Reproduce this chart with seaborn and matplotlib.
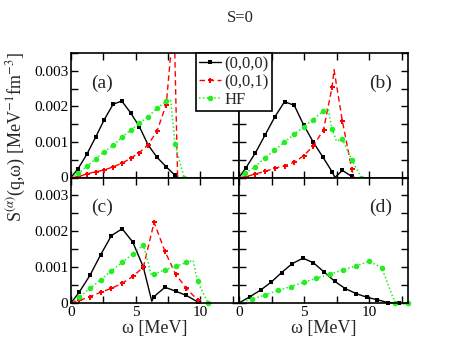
import numpy as np
import pandas as pd
import matplotlib
matplotlib.use("Agg")
import matplotlib.pyplot as plt
import seaborn as sns
from matplotlib.ticker import MultipleLocator, FuncFormatter

sns.set_theme(style="ticks")
plt.rcParams['font.family'] = ['Liberation Serif', 'DejaVu Serif']
plt.rcParams['mathtext.fontset'] = 'stix'

# ---------------- data ----------------
series_labels = ["(0,0,0)", "(0,0,1)", "HF"]
panel_names = ["(a)", "(b)", "(c)", "(d)"]

# panel (a)
a_black_x = [0, 0.55, 1.22, 1.9, 2.58, 3.26, 3.93, 4.61, 5.29, 5.96, 6.65, 7.37, 8.05, 8.3]
a_black_y = [0, 0.00025, 0.00065, 0.00113, 0.00163, 0.00206, 0.00215, 0.00182, 0.00143, 0.00092, 0.00057, 0.0003, 0.00006, 0]
a_red_x = [0, 0.55, 1.22, 1.9, 2.58, 3.26, 3.93, 4.61, 5.29, 5.96, 6.65, 7.37, 7.97, 8.25]
a_red_y = [0, 0.00002, 0.0001, 0.00016, 0.00021, 0.0003, 0.0004, 0.00054, 0.0007, 0.00092, 0.0013, 0.00205, 0.0045, 0]
a_green_x = [0, 0.55, 1.22, 1.9, 2.58, 3.26, 3.93, 4.61, 5.29, 5.96, 6.65, 7.37, 7.72, 8.05, 8.75]
a_green_y = [0, 0.00012, 0.00031, 0.00052, 0.00073, 0.0009, 0.00113, 0.00133, 0.00152, 0.00171, 0.00194, 0.00215, 0.00216, 0.00094, 0]

# panel (b)
b_black_x = [0, 0.51, 1.26, 2.0, 2.75, 3.5, 4.25, 4.97, 5.72, 6.46, 7.18, 7.38, 7.95, 8.67, 8.8]
b_black_y = [0, 0.00026, 0.00069, 0.00119, 0.0017, 0.00213, 0.00203, 0.00148, 0.00099, 0.00057, 0.00015, 0.0, 0.0002, 0.00003, 0]
b_red_x = [0, 0.51, 1.26, 2.0, 2.75, 3.5, 4.25, 4.97, 5.72, 6.5, 7.16, 7.31, 7.95, 8.67, 8.85]
b_red_y = [0, 0.00002, 0.0001, 0.00017, 0.00026, 0.00033, 0.00043, 0.00061, 0.00089, 0.00134, 0.00254, 0.00303, 0.00159, 0.00024, 0]
b_green_x = [0, 0.48, 1.22, 1.97, 2.72, 3.47, 4.23, 4.97, 5.69, 6.46, 6.85, 7.16, 7.5, 7.95, 8.67, 9.4]
b_green_y = [0, 0.00012, 0.0003, 0.00055, 0.00076, 0.00099, 0.00121, 0.00142, 0.00163, 0.00186, 0.00195, 0.00136, 0.00102, 0.00108, 0.0005, 0]

# panel (c)
c_black_x = [0, 0.65, 1.48, 2.3, 3.13, 3.96, 4.78, 5.6, 6.25, 6.43, 7.27, 8.1, 8.93, 9.8]
c_black_y = [0, 0.00031, 0.00078, 0.00135, 0.00188, 0.00207, 0.0017, 0.001, 0.00005, 0.00018, 0.00044, 0.00033, 0.00021, 0.00003]
c_red_x = [0, 0.65, 1.48, 2.3, 3.13, 3.96, 4.78, 5.6, 6.43, 7.27, 8.1, 8.93, 9.8, 9.95]
c_red_y = [0, 0.00007, 0.00018, 0.0003, 0.00041, 0.00055, 0.00074, 0.001, 0.00225, 0.00144, 0.0008, 0.00041, 0.00008, 0]
c_green_x = [0, 0.65, 1.48, 2.3, 3.13, 3.96, 4.78, 5.6, 6.2, 6.43, 7.27, 8.1, 8.93, 9.45, 9.8, 10.6]
c_green_y = [0, 0.00017, 0.00041, 0.00065, 0.0009, 0.00113, 0.00137, 0.00162, 0.0008, 0.0008, 0.00093, 0.00102, 0.00113, 0.00119, 0.0006, 0]

# panel (d)
d_black_x = [0, 0.86, 1.66, 2.47, 3.28, 4.1, 4.93, 5.73, 6.56, 7.38, 8.18, 9.03, 9.84, 10.65, 11.47, 12.27]
d_black_y = [0, 0.00018, 0.00036, 0.00058, 0.00085, 0.0011, 0.00125, 0.00112, 0.00086, 0.0006, 0.0004, 0.00026, 0.00016, 0.00009, 0.00001, 0]
d_green_x = [0, 1, 2, 3, 4, 5, 5.95, 6.97, 7.97, 8.98, 10, 10.97, 12, 12.97]
d_green_y = [0, 0.00011, 0.00022, 0.00035, 0.00046, 0.00058, 0.00069, 0.0008, 0.00092, 0.00103, 0.00116, 0.00099, 0.00001, 0]

# indices (of each series) that carry a marker
a_black_m = list(range(1, 13))
a_red_m = list(range(1, 12))
a_green_m = list(range(1, 12)) + [13, 14]
b_black_m = [1, 2, 3, 4, 5, 6, 7, 8, 9, 10, 12, 13]
b_red_m = [1, 2, 3, 4, 5, 6, 7, 8, 9, 10, 12, 13]
b_green_m = [1, 2, 3, 4, 5, 6, 7, 8, 9, 11, 13, 14, 15]
c_black_m = [1, 2, 3, 4, 5, 6, 7, 9, 10, 11, 12, 13]
c_red_m = list(range(1, 13))
c_green_m = [1, 2, 3, 4, 5, 6, 7, 9, 10, 11, 12, 14, 15]
d_black_m = list(range(1, 16))
d_green_m = list(range(1, 14))

# ---------------- styles ----------------
BLACK = "#000000"
RED = "#ff0000"
GREEN = "#22ee22"
styles = {
    "black": dict(color=BLACK, linestyle="-", marker="s", markersize=2.8, linewidth=1.0),
    "red": dict(color=RED, linestyle=(0, (4, 2.5)), marker="P", markersize=3.6, linewidth=1.0),
    "green": dict(color=GREEN, linestyle=(0, (1, 1.5)), marker="o", markersize=4.0, linewidth=1.1),
}

W, H = 462, 357
fig = plt.figure(figsize=(W / 100, H / 100), dpi=100)
L, R, B, T = 71 / W, 408 / W, 1 - 303 / H, 1 - 53 / H
mid_x = 239 / W
mid_y = 1 - 177.5 / H
axes = {
    "a": fig.add_axes([L, mid_y, mid_x - L, T - mid_y]),
    "b": fig.add_axes([mid_x, mid_y, R - mid_x, T - mid_y]),
    "c": fig.add_axes([L, B, mid_x - L, mid_y - B]),
    "d": fig.add_axes([mid_x, B, R - mid_x, mid_y - B]),
}

def draw(ax, x, y, marks, key, label, clip=False):
    st = styles[key]
    df = pd.DataFrame({"x": x, "y": y})
    sns.lineplot(data=df, x="x", y="y", ax=ax, estimator=None, sort=False,
                 color=st["color"], linestyle=st["linestyle"], linewidth=st["linewidth"],
                 marker=st["marker"], markersize=st["markersize"], markevery=marks,
                 markeredgewidth=0, label=label, clip_on=clip, legend=False)

draw(axes["a"], a_black_x, a_black_y, a_black_m, "black", series_labels[0])
draw(axes["a"], a_red_x, a_red_y, a_red_m, "red", series_labels[1], clip=True)
draw(axes["a"], a_green_x, a_green_y, a_green_m, "green", series_labels[2])

draw(axes["b"], b_black_x, b_black_y, b_black_m, "black", series_labels[0])
draw(axes["b"], b_red_x, b_red_y, b_red_m, "red", series_labels[1])
draw(axes["b"], b_green_x, b_green_y, b_green_m, "green", series_labels[2])

draw(axes["c"], c_black_x, c_black_y, c_black_m, "black", series_labels[0])
draw(axes["c"], c_red_x, c_red_y, c_red_m, "red", series_labels[1])
draw(axes["c"], c_green_x, c_green_y, c_green_m, "green", series_labels[2])

draw(axes["d"], d_black_x, d_black_y, d_black_m, "black", series_labels[0])
draw(axes["d"], d_green_x, d_green_y, d_green_m, "green", series_labels[2])

yfmt = FuncFormatter(lambda v, p: "0" if abs(v) < 1e-12 else f"{v:.3f}")
for k, name in zip("abcd", panel_names):
    ax = axes[k]
    ax.set_xlim(0, 13)
    ax.set_ylim(0, 0.0035)
    ax.xaxis.set_major_locator(MultipleLocator(5))
    ax.xaxis.set_minor_locator(MultipleLocator(2.5))
    ax.yaxis.set_major_locator(MultipleLocator(0.001))
    ax.yaxis.set_minor_locator(MultipleLocator(0.0005))
    ax.yaxis.set_major_formatter(yfmt)
    ax.tick_params(which="both", direction="in", top=True, right=True, width=1.0,
                   labelsize=11, colors="black", pad=2)
    ax.tick_params(which="major", length=5)
    ax.tick_params(which="minor", length=5)
    for s in ax.spines.values():
        s.set_linewidth(1.2)
        s.set_color("black")
    ax.set_xlabel("")
    ax.set_ylabel("")
    ax.set_facecolor("white")
    if k in "ab":
        ax.tick_params(labelbottom=False)
    if k in "bd":
        ax.tick_params(labelleft=False)
    px = 0.186 if k in "ac" else 0.84
    ax.text(px, 0.76, name, transform=ax.transAxes, fontsize=14, ha="center", va="center")

axes["c"].set_xlabel("ω [MeV]", fontsize=13, labelpad=1)
axes["d"].set_xlabel("ω [MeV]", fontsize=13, labelpad=1)

fig.text(0.035, 1 - 137 / H, r"S$^{(\alpha)}$(q,ω) [MeV$^{-1}$fm$^{-3}$]",
         rotation=90, ha="center", va="center", fontsize=13)
fig.text(240 / W, 1 - 18 / H, "S=0", ha="center", va="center", fontsize=12)

handles, labels = axes["a"].get_legend_handles_labels()
leg = fig.legend(handles, labels, loc="upper left",
                 bbox_to_anchor=(196 / W, 1 - 53 / H), bbox_transform=fig.transFigure,
                 fontsize=12, frameon=True, fancybox=False, edgecolor="black",
                 framealpha=1, borderpad=0.2, labelspacing=0.1, handlelength=1.3,
                 handletextpad=0.2, borderaxespad=0)
leg.get_frame().set_linewidth(1.2)

fig.savefig("out.png", dpi=100)
